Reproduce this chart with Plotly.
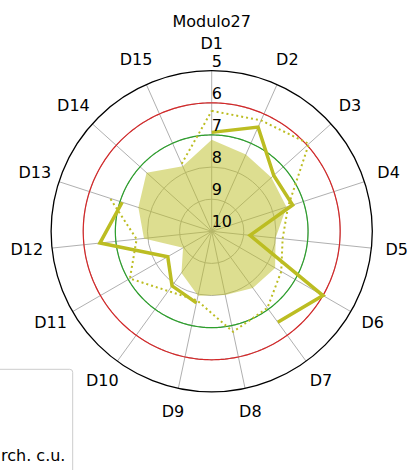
import numpy as np
import plotly.graph_objects as go

categories = ["D%d" % i for i in range(1, 16)]
# values (radial axis reversed: 10 at centre, 5 outside)
area_values = [7.15, 7.38, 7.5, 7.55, 8.0, 7.72, 7.82, 7.97, 7.95, 8.4, 8.97, 7.88, 7.6, 7.27, 7.78]
solid_values = [6.92, 6.45, 7.4, 7.35, 8.8, 6.0, 6.5, None, 7.72, 7.9, 8.42, 6.5, 7.07, None, None]
dotted_values = [6.25, 6.22, 5.93, 7.5, 7.78, 7.5, 7.05, 6.8, 7.8, 7.7, 7.06, 7.65, 6.67, None, 7.7]
radial_ticks = [5, 6, 7, 8, 9, 10]
red_level = 6
green_level = 7
legend_text = "rch. c.u."
title_text = "Modulo27"

OLIVE = "#bcbd22"
FONT = "DejaVu Sans"

n = len(categories)
theta = [i * 360.0 / n for i in range(n)]
R_MIN, R_MAX = 10, 5
W, H = 409, 470
cx, cy, R = 211.7, 231.3, 160.6
RL = 186.0  # radius (px) of the ring on which the category labels are centred

fig = go.Figure()

# filled area (closed)
fig.add_trace(go.Scatterpolar(
    r=area_values + area_values[:1], theta=theta + theta[:1],
    mode="lines", fill="toself", fillcolor="rgba(188,189,34,0.5)",
    line=dict(width=0, color="rgba(0,0,0,0)"), showlegend=False, hoverinfo="skip"))

circ = list(np.linspace(0, 360, 361))
fig.add_trace(go.Scatterpolar(r=[red_level] * len(circ), theta=circ, mode="lines",
                              line=dict(color="#d62728", width=1.2), showlegend=False, hoverinfo="skip"))
fig.add_trace(go.Scatterpolar(r=[green_level] * len(circ), theta=circ, mode="lines",
                              line=dict(color="#2ca02c", width=1.2), showlegend=False, hoverinfo="skip"))

fig.add_trace(go.Scatterpolar(
    r=dotted_values + dotted_values[:1], theta=theta + theta[:1], mode="lines",
    line=dict(color=OLIVE, width=2, dash="2px,3px"), connectgaps=False, showlegend=False))
fig.add_trace(go.Scatterpolar(
    r=solid_values + solid_values[:1], theta=theta + theta[:1], mode="lines",
    line=dict(color=OLIVE, width=3.5), connectgaps=False, showlegend=False))

# radial tick labels (above-right of each tick on the D1 spoke)
fig.add_trace(go.Scatterpolar(
    r=radial_ticks, theta=[0] * len(radial_ticks), mode="text",
    text=[str(v) for v in radial_ticks], textposition="top right",
    textfont=dict(family=FONT, size=16, color="black"),
    cliponaxis=False, showlegend=False, hoverinfo="skip"))

# angular category labels, centred on an outer ring (overlay polar subplot)
fig.add_trace(go.Scatterpolar(
    r=[1] * n, theta=theta, mode="text", text=categories, subplot="polar2",
    textposition="middle center",
    textfont=dict(family=FONT, size=16, color="black"),
    cliponaxis=False, showlegend=False, hoverinfo="skip"))

hidden = dict(visible=False, showgrid=False, showline=False, showticklabels=False, ticks="")

fig.update_layout(
    width=W, height=H,
    margin=dict(l=0, r=0, t=0, b=0, autoexpand=False),
    paper_bgcolor="white",
    font=dict(family=FONT, size=16, color="black"),
    showlegend=False,
    title=dict(text=title_text, x=cx / W, xanchor="center", y=1 - 21.5 / H, yanchor="middle",
               font=dict(family=FONT, size=16, color="black")),
    polar=dict(
        domain=dict(x=[(cx - R) / W, (cx + R) / W], y=[(H - cy - R) / H, (H - cy + R) / H]),
        bgcolor="white",
        angularaxis=dict(
            direction="clockwise", rotation=90, thetaunit="degrees",
            tickmode="array", tickvals=theta, ticktext=categories, showticklabels=False,
            showline=True, linecolor="black", linewidth=1.3,
            gridcolor="#b0b0b0", gridwidth=1, ticks="",
        ),
        radialaxis=dict(
            range=[R_MIN, R_MAX], tickmode="array", tickvals=radial_ticks,
            angle=90, showticklabels=False, showline=False,
            gridcolor="#b0b0b0", gridwidth=1, ticks="",
        ),
    ),
    polar2=dict(
        domain=dict(x=[(cx - RL) / W, (cx + RL) / W], y=[(H - cy - RL) / H, (H - cy + RL) / H]),
        bgcolor="rgba(0,0,0,0)",
        angularaxis=dict(direction="clockwise", rotation=90, thetaunit="degrees", **hidden),
        radialaxis=dict(range=[0, 1], **hidden),
    ),
)

# visible corner of the legend box (cut by the figure's left/bottom edges)
x1 = 72.7 / W
yt = 1 - 369.3 / H
rx, ry = 3.0 / W, 3.0 / H
path = (f"M -0.05,{yt} L {x1 - rx},{yt} Q {x1},{yt} {x1},{yt - ry} L {x1},-0.05")
fig.add_shape(type="path", path=path, xref="paper", yref="paper",
              line=dict(color="#cccccc", width=1))
fig.add_annotation(text=legend_text, xref="paper", yref="paper",
                   x=66.5 / W, y=1 - 455 / H, xanchor="right", yanchor="middle",
                   showarrow=False, font=dict(family=FONT, size=16, color="black"))

fig.write_html("out.html", config={"displayModeBar": False},
               post_script="document.body.style.margin='0px';")
